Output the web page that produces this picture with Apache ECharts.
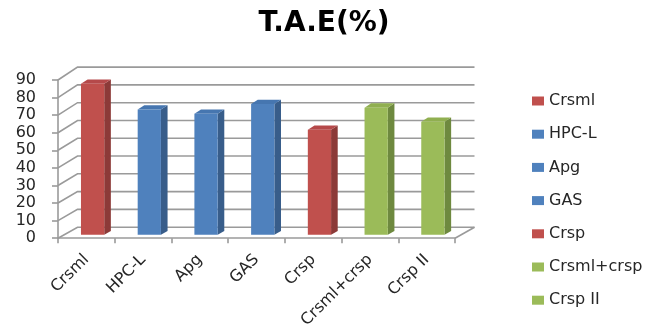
<!DOCTYPE html>
<html>
<head>
<meta charset="utf-8">
<script src="https://cdn.jsdelivr.net/npm/echarts@6/dist/echarts.min.js"></script>
<style>
  html, body { margin: 0; padding: 0; background: #ffffff; }
  #chart { width: 648px; height: 331px; }
</style>
</head>
<body>
<div id="chart"></div>
<script>
// Treatments and their T.A.E (%) values
const categories = ['Crsml', 'HPC-L', 'Apg', 'GAS', 'Crsp', 'Crsml+crsp', 'Crsp II'];
const values = [85.5, 71, 68.5, 74, 59.5, 72, 64];
const groupOf = ['red', 'blue', 'blue', 'blue', 'red', 'green', 'green'];
const yTicks = [0, 10, 20, 30, 40, 50, 60, 70, 80, 90];

// Face shades per colour group: front, side, top
const shades = {
  red:   { front: '#C0504D', side: '#8C3A38', top: '#B5494A' },
  blue:  { front: '#4F81BD', side: '#385D8A', top: '#4676B0' },
  green: { front: '#9BBB59', side: '#6E893F', top: '#90AF50' }
};

// Pseudo-3D depth: horizontal and vertical shift of the back plane,
// plus slight perspective growth of the value scale with depth
const DX = 19.5, DY = -11, PERSP = 0.012;
const T0 = 0.32, T1 = 0.66;     // bar front / back depth
const HALF_W = 0.205;           // half bar width as fraction of band

function project(api, x, v, t) {
  const base = api.coord([0, 0])[1];
  const top = api.coord([0, v])[1];
  const h = base - top;
  return [x + DX * t, base + DY * t - h * (1 + PERSP * t)];
}

const gridColor = '#9a9a9a';

// Walls and floor: left-wall diagonals and back-wall gridlines
function renderWalls(params, api) {
  const v = api.value(0);
  const cs = params.coordSys;
  const xl = cs.x, xr = cs.x + cs.width;
  const a = project(api, xl, v, 0);
  const b = project(api, xl, v, 1);
  const c = project(api, xr, v, 1);
  const style = { stroke: gridColor, lineWidth: 1.6, fill: null };
  const children = [
    { type: 'polyline', shape: { points: [a, b, c] }, style: style }
  ];
  if (v === 0) {
    const d = project(api, xr, 0, 0);
    children.push({ type: 'line', shape: { x1: d[0], y1: d[1], x2: c[0], y2: c[1] }, style: style });
  }
  return { type: 'group', children: children };
}

function renderBar(params, api) {
  const idx = api.value(0);
  const v = api.value(1);
  const cx = api.coord([idx, 0])[0];
  const band = api.size([1, 0])[0];
  const x0 = cx - band * HALF_W, x1 = cx + band * HALF_W;
  const s = shades[groupOf[idx]];
  const f0 = project(api, x0, 0, T0), f1 = project(api, x1, 0, T0);
  const f2 = project(api, x1, v, T0), f3 = project(api, x0, v, T0);
  const b1 = project(api, x1, 0, T1), b2 = project(api, x1, v, T1);
  const b3 = project(api, x0, v, T1);
  return {
    type: 'group',
    children: [
      { type: 'polygon', shape: { points: [f1, b1, b2, f2] }, style: { fill: s.side } },
      { type: 'polygon', shape: { points: [f3, f2, b2, b3] }, style: { fill: s.top } },
      { type: 'polygon', shape: { points: [f0, f1, f2, f3] }, style: { fill: s.front } }
    ]
  };
}

const FONT = 'DejaVu Sans';

const barSeries = categories.map((name, i) => ({
  type: 'custom',
  name: name,
  coordinateSystem: 'cartesian2d',
  renderItem: renderBar,
  itemStyle: { color: shades[groupOf[i]].front },
  encode: { x: 0, y: 1 },
  data: [[i, values[i]]],
  z: 5,
  silent: true
}));

const chart = echarts.init(document.getElementById('chart'), null, { renderer: 'canvas' });
chart.setOption({
  animation: false,
  backgroundColor: '#ffffff',
  title: {
    text: 'T.A.E(%)',
    left: 'center',
    top: 5,
    textStyle: { fontFamily: FONT, fontWeight: 'bold', fontSize: 28, color: '#000000' }
  },
  legend: {
    orient: 'vertical',
    left: 527,
    top: 88,
    icon: 'rect',
    itemWidth: 12,
    itemHeight: 9,
    itemGap: 17.2,
    data: categories,
    textStyle: { fontFamily: FONT, fontSize: 16, color: '#262626', lineHeight: 16, padding: [0, 0, 0, 0] }
  },
  grid: { left: 58, right: 193, top: 80, bottom: 88, containLabel: false },
  xAxis: {
    type: 'category',
    data: categories,
    boundaryGap: true,
    axisLine: { show: true, lineStyle: { color: gridColor, width: 1.6 } },
    axisTick: { show: true, length: 5, alignWithLabel: false, lineStyle: { color: gridColor, width: 1.6 } },
    axisLabel: {
      rotate: 45,
      interval: 0,
      margin: 19,
      fontFamily: FONT,
      fontSize: 16,
      color: '#262626'
    },
    splitLine: { show: false }
  },
  yAxis: {
    type: 'value',
    min: 0,
    max: 90,
    interval: 10,
    axisLine: { show: true, lineStyle: { color: gridColor, width: 1.6 } },
    axisTick: { show: true, length: 6, lineStyle: { color: gridColor, width: 1.6 } },
    axisLabel: { margin: 22, fontFamily: FONT, fontSize: 16, color: '#262626' },
    splitLine: { show: false }
  },
  series: [
    {
      type: 'custom',
      coordinateSystem: 'cartesian2d',
      renderItem: renderWalls,
      encode: { y: 0 },
      data: yTicks.map(v => [v]),
      z: 1,
      silent: true
    }
  ].concat(barSeries)
});
</script>
</body>
</html>
